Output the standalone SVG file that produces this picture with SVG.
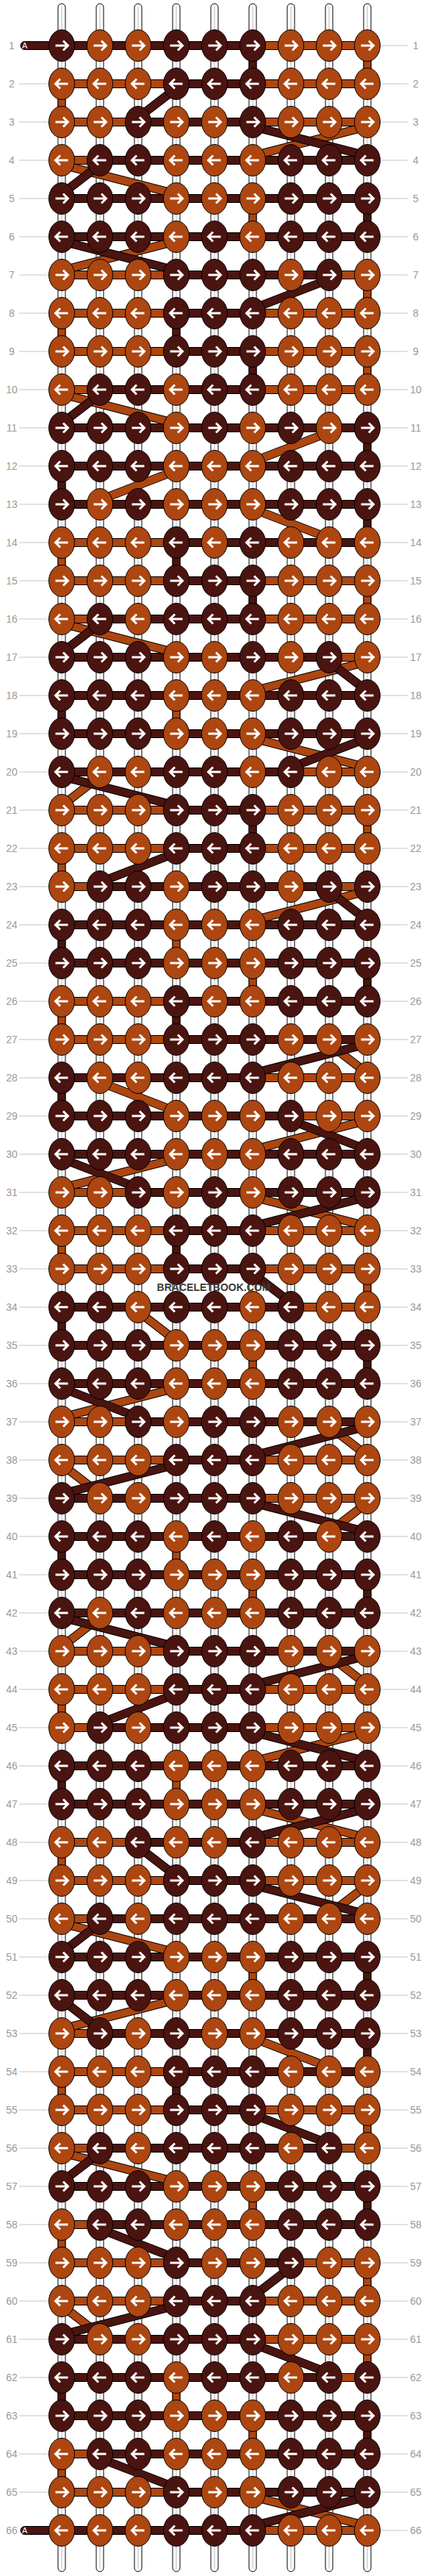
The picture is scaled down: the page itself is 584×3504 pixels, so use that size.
<svg xmlns="http://www.w3.org/2000/svg" xmlns:xlink="http://www.w3.org/1999/xlink" width="584" height="3504" viewBox="0 0 584 3504">
<style>
.d{fill:#4a1410;stroke:#000;stroke-width:1}
.o{fill:#ad4610;stroke:#000;stroke-width:1}
.a{fill:none;stroke:#fff;stroke-width:3}
.s{fill:#fff;stroke:#000;stroke-width:1}
.sc{stroke:#b8b8b8;stroke-width:1;fill:none}
.k{stroke:#000;stroke-width:12;fill:none}
.kd{stroke:#4a1410;stroke-width:10;fill:none}
.ko{stroke:#ad4610;stroke-width:10;fill:none}
.g{stroke:#c4c4c4;stroke-width:1;fill:none}
.l{font-family:"Liberation Sans",Arial,sans-serif;font-size:14px;fill:#999;text-anchor:middle}
.A{font-family:"Liberation Sans",Arial,sans-serif;font-size:11px;fill:#fff}
.w{font-family:"Liberation Sans",Arial,sans-serif;font-size:14px;font-weight:bold;fill:#3a3a3a;text-anchor:middle}
</style>
<defs>
<g id="dR"><ellipse class="d" rx="17.5" ry="21.5"/><path class="a" d="M-8.5 0H8M2-6.5L8.5 0 2 6.5"/></g>
<g id="dL"><ellipse class="d" rx="17.5" ry="21.5"/><path class="a" d="M8.5 0H-8M-2-6.5L-8.5 0-2 6.5"/></g>
<g id="oR"><ellipse class="o" rx="17.5" ry="21.5"/><path class="a" d="M-8.5 0H8M2-6.5L8.5 0 2 6.5"/></g>
<g id="oL"><ellipse class="o" rx="17.5" ry="21.5"/><path class="a" d="M8.5 0H-8M-2-6.5L-8.5 0-2 6.5"/></g>
<g id="st"><rect class="s" x="-5" y="5" width="10" height="3493" rx="5"/><path class="sc" d="M0 9V3494"/></g>
<g id="P1"><rect class="d" x="84" y="-5.5" width="260" height="11"/><rect class="o" x="344" y="-5.5" width="156" height="11"/></g>
<g id="P2"><rect class="o" x="84" y="-5.5" width="156" height="11"/><rect class="d" x="240" y="-5.5" width="104" height="11"/><rect class="o" x="344" y="-5.5" width="156" height="11"/></g>
<g id="P3"><rect class="o" x="84" y="-5.5" width="104" height="11"/><rect class="d" x="188" y="-5.5" width="156" height="11"/><rect class="o" x="344" y="-5.5" width="156" height="11"/></g>
<g id="P4"><rect class="o" x="84" y="-5.5" width="52" height="11"/><rect class="d" x="136" y="-5.5" width="364" height="11"/></g>
<g id="P5"><rect class="d" x="84" y="-5.5" width="416" height="11"/></g>
<g id="P6"><rect class="o" x="84" y="-5.5" width="156" height="11"/><rect class="d" x="240" y="-5.5" width="208" height="11"/><rect class="o" x="448" y="-5.5" width="52" height="11"/></g>
<g id="P7"><rect class="o" x="84" y="-5.5" width="52" height="11"/><rect class="d" x="136" y="-5.5" width="208" height="11"/><rect class="o" x="344" y="-5.5" width="156" height="11"/></g>
<g id="P8"><rect class="o" x="84" y="-5.5" width="156" height="11"/><rect class="d" x="240" y="-5.5" width="260" height="11"/></g>
<g id="P9"><rect class="d" x="84" y="-5.5" width="364" height="11"/><rect class="o" x="448" y="-5.5" width="52" height="11"/></g>
<g id="P10"><rect class="d" x="84" y="-5.5" width="312" height="11"/><rect class="o" x="396" y="-5.5" width="104" height="11"/></g>
<g id="P11"><rect class="o" x="84" y="-5.5" width="52" height="11"/><rect class="d" x="136" y="-5.5" width="312" height="11"/><rect class="o" x="448" y="-5.5" width="52" height="11"/></g>
<g id="P12"><rect class="o" x="84" y="-5.5" width="104" height="11"/><rect class="d" x="188" y="-5.5" width="312" height="11"/></g>
<g id="P13"><rect class="o" x="84" y="-5.5" width="156" height="11"/><rect class="d" x="240" y="-5.5" width="156" height="11"/><rect class="o" x="396" y="-5.5" width="104" height="11"/></g>
<rect id="vd" class="d" x="-5" y="0" width="10" height="52"/>
<rect id="vo" class="o" x="-5" y="0" width="10" height="52"/>
</defs>
<rect width="584" height="3504" fill="#fff"/>
<g id="strings"><use href="#st" x="84"/><use href="#st" x="136"/><use href="#st" x="188"/><use href="#st" x="240"/><use href="#st" x="292"/><use href="#st" x="344"/><use href="#st" x="396"/><use href="#st" x="448"/><use href="#st" x="500"/></g>
<g id="rowlines">
<path class="g" d="M26 114H66M26 166H66M26 218H66M26 270H66M26 322H66M26 374H66M26 426H66M26 478H66M26 530H66M26 582H66M26 634H66M26 686H66M26 738H66M26 790H66M26 842H66M26 894H66M26 946H66M26 998H66M26 1050H66M26 1102H66M26 1154H66M26 1206H66M26 1258H66M26 1310H66M26 1362H66M26 1414H66M26 1466H66M26 1518H66M26 1570H66M26 1622H66M26 1674H66M26 1726H66M26 1778H66M26 1830H66M26 1882H66M26 1934H66M26 1986H66M26 2038H66M26 2090H66M26 2142H66M26 2194H66M26 2246H66M26 2298H66M26 2350H66M26 2402H66M26 2454H66M26 2506H66M26 2558H66M26 2610H66M26 2662H66M26 2714H66M26 2766H66M26 2818H66M26 2870H66M26 2922H66M26 2974H66M26 3026H66M26 3078H66M26 3130H66M26 3182H66M26 3234H66M26 3286H66M26 3338H66M26 3390H66"/>
<path class="g" d="M518 62H555M518 114H555M518 166H555M518 218H555M518 270H555M518 322H555M518 374H555M518 426H555M518 478H555M518 530H555M518 582H555M518 634H555M518 686H555M518 738H555M518 790H555M518 842H555M518 894H555M518 946H555M518 998H555M518 1050H555M518 1102H555M518 1154H555M518 1206H555M518 1258H555M518 1310H555M518 1362H555M518 1414H555M518 1466H555M518 1518H555M518 1570H555M518 1622H555M518 1674H555M518 1726H555M518 1778H555M518 1830H555M518 1882H555M518 1934H555M518 1986H555M518 2038H555M518 2090H555M518 2142H555M518 2194H555M518 2246H555M518 2298H555M518 2350H555M518 2402H555M518 2454H555M518 2506H555M518 2558H555M518 2610H555M518 2662H555M518 2714H555M518 2766H555M518 2818H555M518 2870H555M518 2922H555M518 2974H555M518 3026H555M518 3078H555M518 3130H555M518 3182H555M518 3234H555M518 3286H555M518 3338H555M518 3390H555M518 3442H555"/>
</g>
<g id="labels">
<text class="l" x="16" y="67">1</text><text class="l" x="566" y="67">1</text>
<text class="l" x="16" y="119">2</text><text class="l" x="566" y="119">2</text>
<text class="l" x="16" y="171">3</text><text class="l" x="566" y="171">3</text>
<text class="l" x="16" y="223">4</text><text class="l" x="566" y="223">4</text>
<text class="l" x="16" y="275">5</text><text class="l" x="566" y="275">5</text>
<text class="l" x="16" y="327">6</text><text class="l" x="566" y="327">6</text>
<text class="l" x="16" y="379">7</text><text class="l" x="566" y="379">7</text>
<text class="l" x="16" y="431">8</text><text class="l" x="566" y="431">8</text>
<text class="l" x="16" y="483">9</text><text class="l" x="566" y="483">9</text>
<text class="l" x="16" y="535">10</text><text class="l" x="566" y="535">10</text>
<text class="l" x="16" y="587">11</text><text class="l" x="566" y="587">11</text>
<text class="l" x="16" y="639">12</text><text class="l" x="566" y="639">12</text>
<text class="l" x="16" y="691">13</text><text class="l" x="566" y="691">13</text>
<text class="l" x="16" y="743">14</text><text class="l" x="566" y="743">14</text>
<text class="l" x="16" y="795">15</text><text class="l" x="566" y="795">15</text>
<text class="l" x="16" y="847">16</text><text class="l" x="566" y="847">16</text>
<text class="l" x="16" y="899">17</text><text class="l" x="566" y="899">17</text>
<text class="l" x="16" y="951">18</text><text class="l" x="566" y="951">18</text>
<text class="l" x="16" y="1003">19</text><text class="l" x="566" y="1003">19</text>
<text class="l" x="16" y="1055">20</text><text class="l" x="566" y="1055">20</text>
<text class="l" x="16" y="1107">21</text><text class="l" x="566" y="1107">21</text>
<text class="l" x="16" y="1159">22</text><text class="l" x="566" y="1159">22</text>
<text class="l" x="16" y="1211">23</text><text class="l" x="566" y="1211">23</text>
<text class="l" x="16" y="1263">24</text><text class="l" x="566" y="1263">24</text>
<text class="l" x="16" y="1315">25</text><text class="l" x="566" y="1315">25</text>
<text class="l" x="16" y="1367">26</text><text class="l" x="566" y="1367">26</text>
<text class="l" x="16" y="1419">27</text><text class="l" x="566" y="1419">27</text>
<text class="l" x="16" y="1471">28</text><text class="l" x="566" y="1471">28</text>
<text class="l" x="16" y="1523">29</text><text class="l" x="566" y="1523">29</text>
<text class="l" x="16" y="1575">30</text><text class="l" x="566" y="1575">30</text>
<text class="l" x="16" y="1627">31</text><text class="l" x="566" y="1627">31</text>
<text class="l" x="16" y="1679">32</text><text class="l" x="566" y="1679">32</text>
<text class="l" x="16" y="1731">33</text><text class="l" x="566" y="1731">33</text>
<text class="l" x="16" y="1783">34</text><text class="l" x="566" y="1783">34</text>
<text class="l" x="16" y="1835">35</text><text class="l" x="566" y="1835">35</text>
<text class="l" x="16" y="1887">36</text><text class="l" x="566" y="1887">36</text>
<text class="l" x="16" y="1939">37</text><text class="l" x="566" y="1939">37</text>
<text class="l" x="16" y="1991">38</text><text class="l" x="566" y="1991">38</text>
<text class="l" x="16" y="2043">39</text><text class="l" x="566" y="2043">39</text>
<text class="l" x="16" y="2095">40</text><text class="l" x="566" y="2095">40</text>
<text class="l" x="16" y="2147">41</text><text class="l" x="566" y="2147">41</text>
<text class="l" x="16" y="2199">42</text><text class="l" x="566" y="2199">42</text>
<text class="l" x="16" y="2251">43</text><text class="l" x="566" y="2251">43</text>
<text class="l" x="16" y="2303">44</text><text class="l" x="566" y="2303">44</text>
<text class="l" x="16" y="2355">45</text><text class="l" x="566" y="2355">45</text>
<text class="l" x="16" y="2407">46</text><text class="l" x="566" y="2407">46</text>
<text class="l" x="16" y="2459">47</text><text class="l" x="566" y="2459">47</text>
<text class="l" x="16" y="2511">48</text><text class="l" x="566" y="2511">48</text>
<text class="l" x="16" y="2563">49</text><text class="l" x="566" y="2563">49</text>
<text class="l" x="16" y="2615">50</text><text class="l" x="566" y="2615">50</text>
<text class="l" x="16" y="2667">51</text><text class="l" x="566" y="2667">51</text>
<text class="l" x="16" y="2719">52</text><text class="l" x="566" y="2719">52</text>
<text class="l" x="16" y="2771">53</text><text class="l" x="566" y="2771">53</text>
<text class="l" x="16" y="2823">54</text><text class="l" x="566" y="2823">54</text>
<text class="l" x="16" y="2875">55</text><text class="l" x="566" y="2875">55</text>
<text class="l" x="16" y="2927">56</text><text class="l" x="566" y="2927">56</text>
<text class="l" x="16" y="2979">57</text><text class="l" x="566" y="2979">57</text>
<text class="l" x="16" y="3031">58</text><text class="l" x="566" y="3031">58</text>
<text class="l" x="16" y="3083">59</text><text class="l" x="566" y="3083">59</text>
<text class="l" x="16" y="3135">60</text><text class="l" x="566" y="3135">60</text>
<text class="l" x="16" y="3187">61</text><text class="l" x="566" y="3187">61</text>
<text class="l" x="16" y="3239">62</text><text class="l" x="566" y="3239">62</text>
<text class="l" x="16" y="3291">63</text><text class="l" x="566" y="3291">63</text>
<text class="l" x="16" y="3343">64</text><text class="l" x="566" y="3343">64</text>
<text class="l" x="16" y="3395">65</text><text class="l" x="566" y="3395">65</text>
<text class="l" x="16" y="3447">66</text><text class="l" x="566" y="3447">66</text>
</g>
<g id="connectors">
<path class="d" d="M84 56.5H33.5a5.5 5.5 0 0 0 0 11H84z"/>
<path class="d" d="M84 3436.5H33.5a5.5 5.5 0 0 0 0 11H84z"/>
<use href="#P1" y="62"/><use href="#P2" y="114"/><use href="#P3" y="166"/><use href="#P4" y="218"/><use href="#P5" y="270"/><use href="#P5" y="322"/><use href="#P6" y="374"/><use href="#P2" y="426"/><use href="#P2" y="478"/><use href="#P7" y="530"/>
<use href="#P5" y="582"/><use href="#P5" y="634"/><use href="#P5" y="686"/><use href="#P8" y="738"/><use href="#P2" y="790"/><use href="#P7" y="842"/><use href="#P9" y="894"/><use href="#P5" y="946"/><use href="#P5" y="998"/><use href="#P10" y="1050"/>
<use href="#P2" y="1102"/><use href="#P2" y="1154"/><use href="#P11" y="1206"/><use href="#P5" y="1258"/><use href="#P5" y="1310"/><use href="#P8" y="1362"/><use href="#P8" y="1414"/><use href="#P1" y="1466"/><use href="#P10" y="1518"/><use href="#P5" y="1570"/>
<use href="#P12" y="1622"/><use href="#P2" y="1674"/><use href="#P2" y="1726"/><use href="#P10" y="1778"/><use href="#P5" y="1830"/><use href="#P5" y="1882"/><use href="#P12" y="1934"/><use href="#P2" y="1986"/><use href="#P1" y="2038"/><use href="#P5" y="2090"/>
<use href="#P5" y="2142"/><use href="#P5" y="2194"/><use href="#P8" y="2246"/><use href="#P2" y="2298"/><use href="#P7" y="2350"/><use href="#P5" y="2402"/><use href="#P5" y="2454"/><use href="#P3" y="2506"/><use href="#P2" y="2558"/><use href="#P4" y="2610"/>
<use href="#P5" y="2662"/><use href="#P5" y="2714"/><use href="#P4" y="2766"/><use href="#P8" y="2818"/><use href="#P2" y="2870"/><use href="#P11" y="2922"/><use href="#P5" y="2974"/><use href="#P4" y="3026"/><use href="#P13" y="3078"/><use href="#P2" y="3130"/>
<use href="#P1" y="3182"/><use href="#P9" y="3234"/><use href="#P5" y="3286"/><use href="#P4" y="3338"/><use href="#P8" y="3390"/><use href="#P1" y="3442"/>
<use href="#vo" x="84" y="114"/>
<use href="#vo" x="84" y="426"/><use href="#vd" x="240" y="426"/>
<use href="#vd" x="84" y="634"/>
<use href="#vo" x="84" y="738"/><use href="#vd" x="240" y="738"/>
<use href="#vd" x="84" y="946"/><use href="#vo" x="240" y="946"/>
<use href="#vo" x="84" y="1154"/>
<use href="#vd" x="84" y="1258"/><use href="#vo" x="240" y="1258"/>
<use href="#vo" x="84" y="1362"/><use href="#vd" x="240" y="1362"/>
<use href="#vd" x="84" y="1466"/>
<use href="#vo" x="84" y="1674"/><use href="#vd" x="240" y="1674"/>
<use href="#vd" x="84" y="1778"/>
<use href="#vd" x="84" y="2090"/><use href="#vo" x="240" y="2090"/>
<use href="#vo" x="84" y="2298"/>
<use href="#vd" x="84" y="2402"/><use href="#vo" x="240" y="2402"/>
<use href="#vo" x="84" y="2506"/>
<use href="#vo" x="84" y="2818"/><use href="#vd" x="240" y="2818"/>
<use href="#vo" x="84" y="3026"/>
<use href="#vd" x="84" y="3234"/><use href="#vo" x="240" y="3234"/>
<use href="#vo" x="84" y="3338"/>
<use href="#vd" x="344" y="62"/><use href="#vo" x="500" y="62"/>
<use href="#vo" x="344" y="270"/><use href="#vd" x="500" y="270"/>
<use href="#vo" x="500" y="374"/>
<use href="#vd" x="344" y="478"/><use href="#vo" x="500" y="478"/>
<use href="#vd" x="500" y="582"/>
<use href="#vd" x="500" y="686"/>
<use href="#vd" x="344" y="790"/><use href="#vo" x="500" y="790"/>
<use href="#vd" x="344" y="1102"/><use href="#vo" x="500" y="1102"/>
<use href="#vo" x="344" y="1310"/><use href="#vd" x="500" y="1310"/>
<use href="#vo" x="500" y="1726"/>
<use href="#vo" x="344" y="1830"/><use href="#vd" x="500" y="1830"/>
<use href="#vo" x="344" y="2142"/><use href="#vd" x="500" y="2142"/>
<use href="#vo" x="344" y="2662"/><use href="#vd" x="500" y="2662"/>
<use href="#vd" x="500" y="2766"/>
<use href="#vo" x="500" y="2870"/>
<use href="#vo" x="344" y="2974"/><use href="#vd" x="500" y="2974"/>
<use href="#vo" x="500" y="3078"/>
<use href="#vo" x="500" y="3182"/>
<use href="#vo" x="344" y="3286"/><use href="#vd" x="500" y="3286"/>
<path class="k" d="M240 120L188 160"/><path class="kd" d="M240 120L188 160"/>
<path class="k" d="M500 172L344 212"/><path class="ko" d="M500 172L344 212"/><path class="k" d="M344 172L500 212"/><path class="kd" d="M344 172L500 212"/>
<path class="k" d="M84 224L240 264"/><path class="ko" d="M84 224L240 264"/><path class="k" d="M136 224L84 264"/><path class="kd" d="M136 224L84 264"/>
<path class="k" d="M240 328L84 368"/><path class="ko" d="M240 328L84 368"/><path class="k" d="M84 328L240 368"/><path class="kd" d="M84 328L240 368"/>
<path class="k" d="M448 380L344 420"/><path class="kd" d="M448 380L344 420"/>
<path class="k" d="M84 536L240 576"/><path class="ko" d="M84 536L240 576"/><path class="k" d="M136 536L84 576"/><path class="kd" d="M136 536L84 576"/>
<path class="k" d="M448 588L344 628"/><path class="ko" d="M448 588L344 628"/>
<path class="k" d="M240 640L136 680"/><path class="ko" d="M240 640L136 680"/>
<path class="k" d="M344 692L448 732"/><path class="ko" d="M344 692L448 732"/>
<path class="k" d="M84 848L240 888"/><path class="ko" d="M84 848L240 888"/><path class="k" d="M136 848L84 888"/><path class="kd" d="M136 848L84 888"/>
<path class="k" d="M500 900L344 940"/><path class="ko" d="M500 900L344 940"/><path class="k" d="M448 900L500 940"/><path class="kd" d="M448 900L500 940"/>
<path class="k" d="M344 1004L500 1044"/><path class="ko" d="M344 1004L500 1044"/><path class="k" d="M500 1004L396 1044"/><path class="kd" d="M500 1004L396 1044"/>
<path class="k" d="M136 1056L84 1096"/><path class="ko" d="M136 1056L84 1096"/><path class="k" d="M84 1056L240 1096"/><path class="kd" d="M84 1056L240 1096"/>
<path class="k" d="M240 1160L136 1200"/><path class="kd" d="M240 1160L136 1200"/>
<path class="k" d="M500 1212L344 1252"/><path class="ko" d="M500 1212L344 1252"/><path class="k" d="M448 1212L500 1252"/><path class="kd" d="M448 1212L500 1252"/>
<path class="k" d="M448 1420L500 1460"/><path class="ko" d="M448 1420L500 1460"/><path class="k" d="M500 1420L344 1460"/><path class="kd" d="M500 1420L344 1460"/>
<path class="k" d="M136 1472L240 1512"/><path class="ko" d="M136 1472L240 1512"/>
<path class="k" d="M500 1524L344 1564"/><path class="ko" d="M500 1524L344 1564"/><path class="k" d="M396 1524L500 1564"/><path class="kd" d="M396 1524L500 1564"/>
<path class="k" d="M240 1576L84 1616"/><path class="ko" d="M240 1576L84 1616"/><path class="k" d="M84 1576L188 1616"/><path class="kd" d="M84 1576L188 1616"/>
<path class="k" d="M344 1628L500 1668"/><path class="ko" d="M344 1628L500 1668"/><path class="k" d="M500 1628L344 1668"/><path class="kd" d="M500 1628L344 1668"/>
<path class="k" d="M344 1732L396 1772"/><path class="kd" d="M344 1732L396 1772"/>
<path class="k" d="M188 1784L240 1824"/><path class="ko" d="M188 1784L240 1824"/>
<path class="k" d="M240 1888L84 1928"/><path class="ko" d="M240 1888L84 1928"/><path class="k" d="M84 1888L188 1928"/><path class="kd" d="M84 1888L188 1928"/>
<path class="k" d="M448 1940L500 1980"/><path class="ko" d="M448 1940L500 1980"/><path class="k" d="M500 1940L344 1980"/><path class="kd" d="M500 1940L344 1980"/>
<path class="k" d="M84 1992L136 2032"/><path class="ko" d="M84 1992L136 2032"/><path class="k" d="M240 1992L84 2032"/><path class="kd" d="M240 1992L84 2032"/>
<path class="k" d="M500 2044L448 2084"/><path class="ko" d="M500 2044L448 2084"/><path class="k" d="M344 2044L500 2084"/><path class="kd" d="M344 2044L500 2084"/>
<path class="k" d="M136 2200L84 2240"/><path class="ko" d="M136 2200L84 2240"/><path class="k" d="M84 2200L240 2240"/><path class="kd" d="M84 2200L240 2240"/>
<path class="k" d="M448 2252L500 2292"/><path class="ko" d="M448 2252L500 2292"/><path class="k" d="M500 2252L344 2292"/><path class="kd" d="M500 2252L344 2292"/>
<path class="k" d="M240 2304L136 2344"/><path class="kd" d="M240 2304L136 2344"/>
<path class="k" d="M500 2356L344 2396"/><path class="ko" d="M500 2356L344 2396"/><path class="k" d="M344 2356L500 2396"/><path class="kd" d="M344 2356L500 2396"/>
<path class="k" d="M344 2460L500 2500"/><path class="ko" d="M344 2460L500 2500"/><path class="k" d="M500 2460L344 2500"/><path class="kd" d="M500 2460L344 2500"/>
<path class="k" d="M188 2512L240 2552"/><path class="kd" d="M188 2512L240 2552"/>
<path class="k" d="M500 2564L448 2604"/><path class="ko" d="M500 2564L448 2604"/><path class="k" d="M344 2564L500 2604"/><path class="kd" d="M344 2564L500 2604"/>
<path class="k" d="M84 2616L240 2656"/><path class="ko" d="M84 2616L240 2656"/><path class="k" d="M136 2616L84 2656"/><path class="kd" d="M136 2616L84 2656"/>
<path class="k" d="M240 2720L84 2760"/><path class="ko" d="M240 2720L84 2760"/><path class="k" d="M84 2720L136 2760"/><path class="kd" d="M84 2720L136 2760"/>
<path class="k" d="M344 2772L448 2812"/><path class="ko" d="M344 2772L448 2812"/>
<path class="k" d="M344 2876L448 2916"/><path class="kd" d="M344 2876L448 2916"/>
<path class="k" d="M84 2928L240 2968"/><path class="ko" d="M84 2928L240 2968"/><path class="k" d="M136 2928L84 2968"/><path class="kd" d="M136 2928L84 2968"/>
<path class="k" d="M136 3032L240 3072"/><path class="kd" d="M136 3032L240 3072"/>
<path class="k" d="M396 3084L344 3124"/><path class="kd" d="M396 3084L344 3124"/>
<path class="k" d="M84 3136L136 3176"/><path class="ko" d="M84 3136L136 3176"/><path class="k" d="M240 3136L84 3176"/><path class="kd" d="M240 3136L84 3176"/>
<path class="k" d="M344 3188L448 3228"/><path class="kd" d="M344 3188L448 3228"/>
<path class="k" d="M136 3344L240 3384"/><path class="kd" d="M136 3344L240 3384"/>
<path class="k" d="M344 3396L500 3436"/><path class="ko" d="M344 3396L500 3436"/><path class="k" d="M500 3396L344 3436"/><path class="kd" d="M500 3396L344 3436"/>
</g>
<g id="knots">
<g transform="translate(0,62)"><g id="k1_1"><use href="#dR" x="84"/></g><g id="k1_2"><use href="#oR" x="136"/></g><g id="k1_3"><use href="#oR" x="188"/></g><g id="k1_4"><use href="#dR" x="240"/></g><g id="k1_5"><use href="#dR" x="292"/></g><g id="k1_6"><use href="#dR" x="344"/></g><g id="k1_7"><use href="#oR" x="396"/></g><g id="k1_8"><use href="#oR" x="448"/></g><g id="k1_9"><use href="#oR" x="500"/></g></g>
<g transform="translate(0,114)"><g id="k2_1"><use href="#oL" x="84"/></g><g id="k2_2"><use href="#oL" x="136"/></g><g id="k2_3"><use href="#oL" x="188"/></g><g id="k2_4"><use href="#dL" x="240"/></g><g id="k2_5"><use href="#dL" x="292"/></g><g id="k2_6"><use href="#dL" x="344"/></g><g id="k2_7"><use href="#oL" x="396"/></g><g id="k2_8"><use href="#oL" x="448"/></g><g id="k2_9"><use href="#oL" x="500"/></g></g>
<g transform="translate(0,166)"><g id="k3_1"><use href="#oR" x="84"/></g><g id="k3_2"><use href="#oR" x="136"/></g><g id="k3_3"><use href="#dR" x="188"/></g><g id="k3_4"><use href="#oR" x="240"/></g><g id="k3_5"><use href="#oR" x="292"/></g><g id="k3_6"><use href="#dR" x="344"/></g><g id="k3_7"><use href="#oR" x="396"/></g><g id="k3_8"><use href="#oR" x="448"/></g><g id="k3_9"><use href="#oR" x="500"/></g></g>
<g transform="translate(0,218)"><g id="k4_1"><use href="#oL" x="84"/></g><g id="k4_2"><use href="#dL" x="136"/></g><g id="k4_3"><use href="#dL" x="188"/></g><g id="k4_4"><use href="#oL" x="240"/></g><g id="k4_5"><use href="#oL" x="292"/></g><g id="k4_6"><use href="#oL" x="344"/></g><g id="k4_7"><use href="#dL" x="396"/></g><g id="k4_8"><use href="#dL" x="448"/></g><g id="k4_9"><use href="#dL" x="500"/></g></g>
<g transform="translate(0,270)"><g id="k5_1"><use href="#dR" x="84"/></g><g id="k5_2"><use href="#dR" x="136"/></g><g id="k5_3"><use href="#dR" x="188"/></g><g id="k5_4"><use href="#oR" x="240"/></g><g id="k5_5"><use href="#oR" x="292"/></g><g id="k5_6"><use href="#oR" x="344"/></g><g id="k5_7"><use href="#dR" x="396"/></g><g id="k5_8"><use href="#dR" x="448"/></g><g id="k5_9"><use href="#dR" x="500"/></g></g>
<g transform="translate(0,322)"><g id="k6_1"><use href="#dL" x="84"/></g><g id="k6_2"><use href="#dL" x="136"/></g><g id="k6_3"><use href="#dL" x="188"/></g><g id="k6_4"><use href="#oL" x="240"/></g><g id="k6_5"><use href="#dL" x="292"/></g><g id="k6_6"><use href="#oL" x="344"/></g><g id="k6_7"><use href="#dL" x="396"/></g><g id="k6_8"><use href="#dL" x="448"/></g><g id="k6_9"><use href="#dL" x="500"/></g></g>
<g transform="translate(0,374)"><g id="k7_1"><use href="#oR" x="84"/></g><g id="k7_2"><use href="#oR" x="136"/></g><g id="k7_3"><use href="#oR" x="188"/></g><g id="k7_4"><use href="#dR" x="240"/></g><g id="k7_5"><use href="#dR" x="292"/></g><g id="k7_6"><use href="#dR" x="344"/></g><g id="k7_7"><use href="#oR" x="396"/></g><g id="k7_8"><use href="#dR" x="448"/></g><g id="k7_9"><use href="#oR" x="500"/></g></g>
<g transform="translate(0,426)"><g id="k8_1"><use href="#oL" x="84"/></g><g id="k8_2"><use href="#oL" x="136"/></g><g id="k8_3"><use href="#oL" x="188"/></g><g id="k8_4"><use href="#dL" x="240"/></g><g id="k8_5"><use href="#dL" x="292"/></g><g id="k8_6"><use href="#dL" x="344"/></g><g id="k8_7"><use href="#oL" x="396"/></g><g id="k8_8"><use href="#oL" x="448"/></g><g id="k8_9"><use href="#oL" x="500"/></g></g>
<g transform="translate(0,478)"><g id="k9_1"><use href="#oR" x="84"/></g><g id="k9_2"><use href="#oR" x="136"/></g><g id="k9_3"><use href="#oR" x="188"/></g><g id="k9_4"><use href="#dR" x="240"/></g><g id="k9_5"><use href="#dR" x="292"/></g><g id="k9_6"><use href="#dR" x="344"/></g><g id="k9_7"><use href="#oR" x="396"/></g><g id="k9_8"><use href="#oR" x="448"/></g><g id="k9_9"><use href="#oR" x="500"/></g></g>
<g transform="translate(0,530)"><g id="k10_1"><use href="#oL" x="84"/></g><g id="k10_2"><use href="#dL" x="136"/></g><g id="k10_3"><use href="#dL" x="188"/></g><g id="k10_4"><use href="#oL" x="240"/></g><g id="k10_5"><use href="#dL" x="292"/></g><g id="k10_6"><use href="#dL" x="344"/></g><g id="k10_7"><use href="#oL" x="396"/></g><g id="k10_8"><use href="#oL" x="448"/></g><g id="k10_9"><use href="#oL" x="500"/></g></g>
<g transform="translate(0,582)"><g id="k11_1"><use href="#dR" x="84"/></g><g id="k11_2"><use href="#dR" x="136"/></g><g id="k11_3"><use href="#dR" x="188"/></g><g id="k11_4"><use href="#oR" x="240"/></g><g id="k11_5"><use href="#dR" x="292"/></g><g id="k11_6"><use href="#oR" x="344"/></g><g id="k11_7"><use href="#dR" x="396"/></g><g id="k11_8"><use href="#oR" x="448"/></g><g id="k11_9"><use href="#dR" x="500"/></g></g>
<g transform="translate(0,634)"><g id="k12_1"><use href="#dL" x="84"/></g><g id="k12_2"><use href="#dL" x="136"/></g><g id="k12_3"><use href="#dL" x="188"/></g><g id="k12_4"><use href="#oL" x="240"/></g><g id="k12_5"><use href="#oL" x="292"/></g><g id="k12_6"><use href="#oL" x="344"/></g><g id="k12_7"><use href="#dL" x="396"/></g><g id="k12_8"><use href="#dL" x="448"/></g><g id="k12_9"><use href="#dL" x="500"/></g></g>
<g transform="translate(0,686)"><g id="k13_1"><use href="#dR" x="84"/></g><g id="k13_2"><use href="#oR" x="136"/></g><g id="k13_3"><use href="#dR" x="188"/></g><g id="k13_4"><use href="#oR" x="240"/></g><g id="k13_5"><use href="#oR" x="292"/></g><g id="k13_6"><use href="#oR" x="344"/></g><g id="k13_7"><use href="#dR" x="396"/></g><g id="k13_8"><use href="#dR" x="448"/></g><g id="k13_9"><use href="#dR" x="500"/></g></g>
<g transform="translate(0,738)"><g id="k14_1"><use href="#oL" x="84"/></g><g id="k14_2"><use href="#oL" x="136"/></g><g id="k14_3"><use href="#oL" x="188"/></g><g id="k14_4"><use href="#dL" x="240"/></g><g id="k14_5"><use href="#oL" x="292"/></g><g id="k14_6"><use href="#dL" x="344"/></g><g id="k14_7"><use href="#oL" x="396"/></g><g id="k14_8"><use href="#oL" x="448"/></g><g id="k14_9"><use href="#oL" x="500"/></g></g>
<g transform="translate(0,790)"><g id="k15_1"><use href="#oR" x="84"/></g><g id="k15_2"><use href="#oR" x="136"/></g><g id="k15_3"><use href="#oR" x="188"/></g><g id="k15_4"><use href="#dR" x="240"/></g><g id="k15_5"><use href="#dR" x="292"/></g><g id="k15_6"><use href="#dR" x="344"/></g><g id="k15_7"><use href="#oR" x="396"/></g><g id="k15_8"><use href="#oR" x="448"/></g><g id="k15_9"><use href="#oR" x="500"/></g></g>
<g transform="translate(0,842)"><g id="k16_1"><use href="#oL" x="84"/></g><g id="k16_2"><use href="#dL" x="136"/></g><g id="k16_3"><use href="#oL" x="188"/></g><g id="k16_4"><use href="#dL" x="240"/></g><g id="k16_5"><use href="#dL" x="292"/></g><g id="k16_6"><use href="#dL" x="344"/></g><g id="k16_7"><use href="#oL" x="396"/></g><g id="k16_8"><use href="#oL" x="448"/></g><g id="k16_9"><use href="#oL" x="500"/></g></g>
<g transform="translate(0,894)"><g id="k17_1"><use href="#dR" x="84"/></g><g id="k17_2"><use href="#dR" x="136"/></g><g id="k17_3"><use href="#dR" x="188"/></g><g id="k17_4"><use href="#oR" x="240"/></g><g id="k17_5"><use href="#oR" x="292"/></g><g id="k17_6"><use href="#dR" x="344"/></g><g id="k17_7"><use href="#oR" x="396"/></g><g id="k17_8"><use href="#dR" x="448"/></g><g id="k17_9"><use href="#oR" x="500"/></g></g>
<g transform="translate(0,946)"><g id="k18_1"><use href="#dL" x="84"/></g><g id="k18_2"><use href="#dL" x="136"/></g><g id="k18_3"><use href="#dL" x="188"/></g><g id="k18_4"><use href="#oL" x="240"/></g><g id="k18_5"><use href="#oL" x="292"/></g><g id="k18_6"><use href="#oL" x="344"/></g><g id="k18_7"><use href="#dL" x="396"/></g><g id="k18_8"><use href="#dL" x="448"/></g><g id="k18_9"><use href="#dL" x="500"/></g></g>
<g transform="translate(0,998)"><g id="k19_1"><use href="#dR" x="84"/></g><g id="k19_2"><use href="#dR" x="136"/></g><g id="k19_3"><use href="#dR" x="188"/></g><g id="k19_4"><use href="#oR" x="240"/></g><g id="k19_5"><use href="#oR" x="292"/></g><g id="k19_6"><use href="#oR" x="344"/></g><g id="k19_7"><use href="#dR" x="396"/></g><g id="k19_8"><use href="#dR" x="448"/></g><g id="k19_9"><use href="#dR" x="500"/></g></g>
<g transform="translate(0,1050)"><g id="k20_1"><use href="#dL" x="84"/></g><g id="k20_2"><use href="#oL" x="136"/></g><g id="k20_3"><use href="#oL" x="188"/></g><g id="k20_4"><use href="#dL" x="240"/></g><g id="k20_5"><use href="#dL" x="292"/></g><g id="k20_6"><use href="#oL" x="344"/></g><g id="k20_7"><use href="#dL" x="396"/></g><g id="k20_8"><use href="#oL" x="448"/></g><g id="k20_9"><use href="#oL" x="500"/></g></g>
<g transform="translate(0,1102)"><g id="k21_1"><use href="#oR" x="84"/></g><g id="k21_2"><use href="#oR" x="136"/></g><g id="k21_3"><use href="#oR" x="188"/></g><g id="k21_4"><use href="#dR" x="240"/></g><g id="k21_5"><use href="#dR" x="292"/></g><g id="k21_6"><use href="#dR" x="344"/></g><g id="k21_7"><use href="#oR" x="396"/></g><g id="k21_8"><use href="#oR" x="448"/></g><g id="k21_9"><use href="#oR" x="500"/></g></g>
<g transform="translate(0,1154)"><g id="k22_1"><use href="#oL" x="84"/></g><g id="k22_2"><use href="#oL" x="136"/></g><g id="k22_3"><use href="#oL" x="188"/></g><g id="k22_4"><use href="#dL" x="240"/></g><g id="k22_5"><use href="#dL" x="292"/></g><g id="k22_6"><use href="#dL" x="344"/></g><g id="k22_7"><use href="#oL" x="396"/></g><g id="k22_8"><use href="#oL" x="448"/></g><g id="k22_9"><use href="#oL" x="500"/></g></g>
<g transform="translate(0,1206)"><g id="k23_1"><use href="#oR" x="84"/></g><g id="k23_2"><use href="#dR" x="136"/></g><g id="k23_3"><use href="#dR" x="188"/></g><g id="k23_4"><use href="#oR" x="240"/></g><g id="k23_5"><use href="#dR" x="292"/></g><g id="k23_6"><use href="#dR" x="344"/></g><g id="k23_7"><use href="#oR" x="396"/></g><g id="k23_8"><use href="#dR" x="448"/></g><g id="k23_9"><use href="#dR" x="500"/></g></g>
<g transform="translate(0,1258)"><g id="k24_1"><use href="#dL" x="84"/></g><g id="k24_2"><use href="#dL" x="136"/></g><g id="k24_3"><use href="#dL" x="188"/></g><g id="k24_4"><use href="#oL" x="240"/></g><g id="k24_5"><use href="#oL" x="292"/></g><g id="k24_6"><use href="#oL" x="344"/></g><g id="k24_7"><use href="#dL" x="396"/></g><g id="k24_8"><use href="#dL" x="448"/></g><g id="k24_9"><use href="#dL" x="500"/></g></g>
<g transform="translate(0,1310)"><g id="k25_1"><use href="#dR" x="84"/></g><g id="k25_2"><use href="#dR" x="136"/></g><g id="k25_3"><use href="#dR" x="188"/></g><g id="k25_4"><use href="#oR" x="240"/></g><g id="k25_5"><use href="#oR" x="292"/></g><g id="k25_6"><use href="#oR" x="344"/></g><g id="k25_7"><use href="#dR" x="396"/></g><g id="k25_8"><use href="#dR" x="448"/></g><g id="k25_9"><use href="#dR" x="500"/></g></g>
<g transform="translate(0,1362)"><g id="k26_1"><use href="#oL" x="84"/></g><g id="k26_2"><use href="#oL" x="136"/></g><g id="k26_3"><use href="#oL" x="188"/></g><g id="k26_4"><use href="#dL" x="240"/></g><g id="k26_5"><use href="#oL" x="292"/></g><g id="k26_6"><use href="#oL" x="344"/></g><g id="k26_7"><use href="#dL" x="396"/></g><g id="k26_8"><use href="#dL" x="448"/></g><g id="k26_9"><use href="#dL" x="500"/></g></g>
<g transform="translate(0,1414)"><g id="k27_1"><use href="#oR" x="84"/></g><g id="k27_2"><use href="#oR" x="136"/></g><g id="k27_3"><use href="#oR" x="188"/></g><g id="k27_4"><use href="#dR" x="240"/></g><g id="k27_5"><use href="#dR" x="292"/></g><g id="k27_6"><use href="#dR" x="344"/></g><g id="k27_7"><use href="#oR" x="396"/></g><g id="k27_8"><use href="#oR" x="448"/></g><g id="k27_9"><use href="#oR" x="500"/></g></g>
<g transform="translate(0,1466)"><g id="k28_1"><use href="#dL" x="84"/></g><g id="k28_2"><use href="#oL" x="136"/></g><g id="k28_3"><use href="#oL" x="188"/></g><g id="k28_4"><use href="#dL" x="240"/></g><g id="k28_5"><use href="#dL" x="292"/></g><g id="k28_6"><use href="#dL" x="344"/></g><g id="k28_7"><use href="#oL" x="396"/></g><g id="k28_8"><use href="#oL" x="448"/></g><g id="k28_9"><use href="#oL" x="500"/></g></g>
<g transform="translate(0,1518)"><g id="k29_1"><use href="#dR" x="84"/></g><g id="k29_2"><use href="#dR" x="136"/></g><g id="k29_3"><use href="#dR" x="188"/></g><g id="k29_4"><use href="#oR" x="240"/></g><g id="k29_5"><use href="#oR" x="292"/></g><g id="k29_6"><use href="#oR" x="344"/></g><g id="k29_7"><use href="#dR" x="396"/></g><g id="k29_8"><use href="#oR" x="448"/></g><g id="k29_9"><use href="#oR" x="500"/></g></g>
<g transform="translate(0,1570)"><g id="k30_1"><use href="#dL" x="84"/></g><g id="k30_2"><use href="#dL" x="136"/></g><g id="k30_3"><use href="#dL" x="188"/></g><g id="k30_4"><use href="#oL" x="240"/></g><g id="k30_5"><use href="#oL" x="292"/></g><g id="k30_6"><use href="#oL" x="344"/></g><g id="k30_7"><use href="#dL" x="396"/></g><g id="k30_8"><use href="#dL" x="448"/></g><g id="k30_9"><use href="#dL" x="500"/></g></g>
<g transform="translate(0,1622)"><g id="k31_1"><use href="#oR" x="84"/></g><g id="k31_2"><use href="#oR" x="136"/></g><g id="k31_3"><use href="#dR" x="188"/></g><g id="k31_4"><use href="#oR" x="240"/></g><g id="k31_5"><use href="#dR" x="292"/></g><g id="k31_6"><use href="#oR" x="344"/></g><g id="k31_7"><use href="#dR" x="396"/></g><g id="k31_8"><use href="#dR" x="448"/></g><g id="k31_9"><use href="#dR" x="500"/></g></g>
<g transform="translate(0,1674)"><g id="k32_1"><use href="#oL" x="84"/></g><g id="k32_2"><use href="#oL" x="136"/></g><g id="k32_3"><use href="#oL" x="188"/></g><g id="k32_4"><use href="#dL" x="240"/></g><g id="k32_5"><use href="#dL" x="292"/></g><g id="k32_6"><use href="#dL" x="344"/></g><g id="k32_7"><use href="#oL" x="396"/></g><g id="k32_8"><use href="#oL" x="448"/></g><g id="k32_9"><use href="#oL" x="500"/></g></g>
<g transform="translate(0,1726)"><g id="k33_1"><use href="#oR" x="84"/></g><g id="k33_2"><use href="#oR" x="136"/></g><g id="k33_3"><use href="#oR" x="188"/></g><g id="k33_4"><use href="#dR" x="240"/></g><g id="k33_5"><use href="#dR" x="292"/></g><g id="k33_6"><use href="#dR" x="344"/></g><g id="k33_7"><use href="#oR" x="396"/></g><g id="k33_8"><use href="#oR" x="448"/></g><g id="k33_9"><use href="#oR" x="500"/></g></g>
<g transform="translate(0,1778)"><g id="k34_1"><use href="#dL" x="84"/></g><g id="k34_2"><use href="#dL" x="136"/></g><g id="k34_3"><use href="#oL" x="188"/></g><g id="k34_4"><use href="#dL" x="240"/></g><g id="k34_5"><use href="#dL" x="292"/></g><g id="k34_6"><use href="#oL" x="344"/></g><g id="k34_7"><use href="#dL" x="396"/></g><g id="k34_8"><use href="#oL" x="448"/></g><g id="k34_9"><use href="#oL" x="500"/></g></g>
<g transform="translate(0,1830)"><g id="k35_1"><use href="#dR" x="84"/></g><g id="k35_2"><use href="#dR" x="136"/></g><g id="k35_3"><use href="#dR" x="188"/></g><g id="k35_4"><use href="#oR" x="240"/></g><g id="k35_5"><use href="#oR" x="292"/></g><g id="k35_6"><use href="#oR" x="344"/></g><g id="k35_7"><use href="#dR" x="396"/></g><g id="k35_8"><use href="#dR" x="448"/></g><g id="k35_9"><use href="#dR" x="500"/></g></g>
<g transform="translate(0,1882)"><g id="k36_1"><use href="#dL" x="84"/></g><g id="k36_2"><use href="#dL" x="136"/></g><g id="k36_3"><use href="#dL" x="188"/></g><g id="k36_4"><use href="#oL" x="240"/></g><g id="k36_5"><use href="#oL" x="292"/></g><g id="k36_6"><use href="#oL" x="344"/></g><g id="k36_7"><use href="#dL" x="396"/></g><g id="k36_8"><use href="#dL" x="448"/></g><g id="k36_9"><use href="#dL" x="500"/></g></g>
<g transform="translate(0,1934)"><g id="k37_1"><use href="#oR" x="84"/></g><g id="k37_2"><use href="#oR" x="136"/></g><g id="k37_3"><use href="#dR" x="188"/></g><g id="k37_4"><use href="#oR" x="240"/></g><g id="k37_5"><use href="#dR" x="292"/></g><g id="k37_6"><use href="#dR" x="344"/></g><g id="k37_7"><use href="#oR" x="396"/></g><g id="k37_8"><use href="#oR" x="448"/></g><g id="k37_9"><use href="#oR" x="500"/></g></g>
<g transform="translate(0,1986)"><g id="k38_1"><use href="#oL" x="84"/></g><g id="k38_2"><use href="#oL" x="136"/></g><g id="k38_3"><use href="#oL" x="188"/></g><g id="k38_4"><use href="#dL" x="240"/></g><g id="k38_5"><use href="#dL" x="292"/></g><g id="k38_6"><use href="#dL" x="344"/></g><g id="k38_7"><use href="#oL" x="396"/></g><g id="k38_8"><use href="#oL" x="448"/></g><g id="k38_9"><use href="#oL" x="500"/></g></g>
<g transform="translate(0,2038)"><g id="k39_1"><use href="#dR" x="84"/></g><g id="k39_2"><use href="#oR" x="136"/></g><g id="k39_3"><use href="#oR" x="188"/></g><g id="k39_4"><use href="#dR" x="240"/></g><g id="k39_5"><use href="#dR" x="292"/></g><g id="k39_6"><use href="#dR" x="344"/></g><g id="k39_7"><use href="#oR" x="396"/></g><g id="k39_8"><use href="#oR" x="448"/></g><g id="k39_9"><use href="#oR" x="500"/></g></g>
<g transform="translate(0,2090)"><g id="k40_1"><use href="#dL" x="84"/></g><g id="k40_2"><use href="#dL" x="136"/></g><g id="k40_3"><use href="#dL" x="188"/></g><g id="k40_4"><use href="#oL" x="240"/></g><g id="k40_5"><use href="#dL" x="292"/></g><g id="k40_6"><use href="#oL" x="344"/></g><g id="k40_7"><use href="#dL" x="396"/></g><g id="k40_8"><use href="#oL" x="448"/></g><g id="k40_9"><use href="#dL" x="500"/></g></g>
<g transform="translate(0,2142)"><g id="k41_1"><use href="#dR" x="84"/></g><g id="k41_2"><use href="#dR" x="136"/></g><g id="k41_3"><use href="#dR" x="188"/></g><g id="k41_4"><use href="#oR" x="240"/></g><g id="k41_5"><use href="#oR" x="292"/></g><g id="k41_6"><use href="#oR" x="344"/></g><g id="k41_7"><use href="#dR" x="396"/></g><g id="k41_8"><use href="#dR" x="448"/></g><g id="k41_9"><use href="#dR" x="500"/></g></g>
<g transform="translate(0,2194)"><g id="k42_1"><use href="#dL" x="84"/></g><g id="k42_2"><use href="#oL" x="136"/></g><g id="k42_3"><use href="#dL" x="188"/></g><g id="k42_4"><use href="#oL" x="240"/></g><g id="k42_5"><use href="#oL" x="292"/></g><g id="k42_6"><use href="#oL" x="344"/></g><g id="k42_7"><use href="#dL" x="396"/></g><g id="k42_8"><use href="#dL" x="448"/></g><g id="k42_9"><use href="#dL" x="500"/></g></g>
<g transform="translate(0,2246)"><g id="k43_1"><use href="#oR" x="84"/></g><g id="k43_2"><use href="#oR" x="136"/></g><g id="k43_3"><use href="#oR" x="188"/></g><g id="k43_4"><use href="#dR" x="240"/></g><g id="k43_5"><use href="#dR" x="292"/></g><g id="k43_6"><use href="#dR" x="344"/></g><g id="k43_7"><use href="#oR" x="396"/></g><g id="k43_8"><use href="#oR" x="448"/></g><g id="k43_9"><use href="#oR" x="500"/></g></g>
<g transform="translate(0,2298)"><g id="k44_1"><use href="#oL" x="84"/></g><g id="k44_2"><use href="#oL" x="136"/></g><g id="k44_3"><use href="#oL" x="188"/></g><g id="k44_4"><use href="#dL" x="240"/></g><g id="k44_5"><use href="#dL" x="292"/></g><g id="k44_6"><use href="#dL" x="344"/></g><g id="k44_7"><use href="#oL" x="396"/></g><g id="k44_8"><use href="#oL" x="448"/></g><g id="k44_9"><use href="#oL" x="500"/></g></g>
<g transform="translate(0,2350)"><g id="k45_1"><use href="#oR" x="84"/></g><g id="k45_2"><use href="#dR" x="136"/></g><g id="k45_3"><use href="#oR" x="188"/></g><g id="k45_4"><use href="#dR" x="240"/></g><g id="k45_5"><use href="#dR" x="292"/></g><g id="k45_6"><use href="#dR" x="344"/></g><g id="k45_7"><use href="#oR" x="396"/></g><g id="k45_8"><use href="#oR" x="448"/></g><g id="k45_9"><use href="#oR" x="500"/></g></g>
<g transform="translate(0,2402)"><g id="k46_1"><use href="#dL" x="84"/></g><g id="k46_2"><use href="#dL" x="136"/></g><g id="k46_3"><use href="#dL" x="188"/></g><g id="k46_4"><use href="#oL" x="240"/></g><g id="k46_5"><use href="#oL" x="292"/></g><g id="k46_6"><use href="#oL" x="344"/></g><g id="k46_7"><use href="#dL" x="396"/></g><g id="k46_8"><use href="#dL" x="448"/></g><g id="k46_9"><use href="#dL" x="500"/></g></g>
<g transform="translate(0,2454)"><g id="k47_1"><use href="#dR" x="84"/></g><g id="k47_2"><use href="#dR" x="136"/></g><g id="k47_3"><use href="#dR" x="188"/></g><g id="k47_4"><use href="#oR" x="240"/></g><g id="k47_5"><use href="#oR" x="292"/></g><g id="k47_6"><use href="#oR" x="344"/></g><g id="k47_7"><use href="#dR" x="396"/></g><g id="k47_8"><use href="#dR" x="448"/></g><g id="k47_9"><use href="#dR" x="500"/></g></g>
<g transform="translate(0,2506)"><g id="k48_1"><use href="#oL" x="84"/></g><g id="k48_2"><use href="#oL" x="136"/></g><g id="k48_3"><use href="#dL" x="188"/></g><g id="k48_4"><use href="#oL" x="240"/></g><g id="k48_5"><use href="#oL" x="292"/></g><g id="k48_6"><use href="#dL" x="344"/></g><g id="k48_7"><use href="#oL" x="396"/></g><g id="k48_8"><use href="#oL" x="448"/></g><g id="k48_9"><use href="#oL" x="500"/></g></g>
<g transform="translate(0,2558)"><g id="k49_1"><use href="#oR" x="84"/></g><g id="k49_2"><use href="#oR" x="136"/></g><g id="k49_3"><use href="#oR" x="188"/></g><g id="k49_4"><use href="#dR" x="240"/></g><g id="k49_5"><use href="#dR" x="292"/></g><g id="k49_6"><use href="#dR" x="344"/></g><g id="k49_7"><use href="#oR" x="396"/></g><g id="k49_8"><use href="#oR" x="448"/></g><g id="k49_9"><use href="#oR" x="500"/></g></g>
<g transform="translate(0,2610)"><g id="k50_1"><use href="#oL" x="84"/></g><g id="k50_2"><use href="#dL" x="136"/></g><g id="k50_3"><use href="#oL" x="188"/></g><g id="k50_4"><use href="#dL" x="240"/></g><g id="k50_5"><use href="#dL" x="292"/></g><g id="k50_6"><use href="#dL" x="344"/></g><g id="k50_7"><use href="#oL" x="396"/></g><g id="k50_8"><use href="#oL" x="448"/></g><g id="k50_9"><use href="#oL" x="500"/></g></g>
<g transform="translate(0,2662)"><g id="k51_1"><use href="#dR" x="84"/></g><g id="k51_2"><use href="#dR" x="136"/></g><g id="k51_3"><use href="#dR" x="188"/></g><g id="k51_4"><use href="#oR" x="240"/></g><g id="k51_5"><use href="#oR" x="292"/></g><g id="k51_6"><use href="#oR" x="344"/></g><g id="k51_7"><use href="#dR" x="396"/></g><g id="k51_8"><use href="#dR" x="448"/></g><g id="k51_9"><use href="#dR" x="500"/></g></g>
<g transform="translate(0,2714)"><g id="k52_1"><use href="#dL" x="84"/></g><g id="k52_2"><use href="#dL" x="136"/></g><g id="k52_3"><use href="#dL" x="188"/></g><g id="k52_4"><use href="#oL" x="240"/></g><g id="k52_5"><use href="#oL" x="292"/></g><g id="k52_6"><use href="#oL" x="344"/></g><g id="k52_7"><use href="#dL" x="396"/></g><g id="k52_8"><use href="#dL" x="448"/></g><g id="k52_9"><use href="#dL" x="500"/></g></g>
<g transform="translate(0,2766)"><g id="k53_1"><use href="#oR" x="84"/></g><g id="k53_2"><use href="#dR" x="136"/></g><g id="k53_3"><use href="#oR" x="188"/></g><g id="k53_4"><use href="#dR" x="240"/></g><g id="k53_5"><use href="#oR" x="292"/></g><g id="k53_6"><use href="#oR" x="344"/></g><g id="k53_7"><use href="#dR" x="396"/></g><g id="k53_8"><use href="#dR" x="448"/></g><g id="k53_9"><use href="#dR" x="500"/></g></g>
<g transform="translate(0,2818)"><g id="k54_1"><use href="#oL" x="84"/></g><g id="k54_2"><use href="#oL" x="136"/></g><g id="k54_3"><use href="#oL" x="188"/></g><g id="k54_4"><use href="#dL" x="240"/></g><g id="k54_5"><use href="#dL" x="292"/></g><g id="k54_6"><use href="#dL" x="344"/></g><g id="k54_7"><use href="#oL" x="396"/></g><g id="k54_8"><use href="#oL" x="448"/></g><g id="k54_9"><use href="#oL" x="500"/></g></g>
<g transform="translate(0,2870)"><g id="k55_1"><use href="#oR" x="84"/></g><g id="k55_2"><use href="#oR" x="136"/></g><g id="k55_3"><use href="#oR" x="188"/></g><g id="k55_4"><use href="#dR" x="240"/></g><g id="k55_5"><use href="#dR" x="292"/></g><g id="k55_6"><use href="#dR" x="344"/></g><g id="k55_7"><use href="#oR" x="396"/></g><g id="k55_8"><use href="#oR" x="448"/></g><g id="k55_9"><use href="#oR" x="500"/></g></g>
<g transform="translate(0,2922)"><g id="k56_1"><use href="#oL" x="84"/></g><g id="k56_2"><use href="#dL" x="136"/></g><g id="k56_3"><use href="#oL" x="188"/></g><g id="k56_4"><use href="#dL" x="240"/></g><g id="k56_5"><use href="#dL" x="292"/></g><g id="k56_6"><use href="#dL" x="344"/></g><g id="k56_7"><use href="#oL" x="396"/></g><g id="k56_8"><use href="#dL" x="448"/></g><g id="k56_9"><use href="#oL" x="500"/></g></g>
<g transform="translate(0,2974)"><g id="k57_1"><use href="#dR" x="84"/></g><g id="k57_2"><use href="#dR" x="136"/></g><g id="k57_3"><use href="#dR" x="188"/></g><g id="k57_4"><use href="#oR" x="240"/></g><g id="k57_5"><use href="#oR" x="292"/></g><g id="k57_6"><use href="#oR" x="344"/></g><g id="k57_7"><use href="#dR" x="396"/></g><g id="k57_8"><use href="#dR" x="448"/></g><g id="k57_9"><use href="#dR" x="500"/></g></g>
<g transform="translate(0,3026)"><g id="k58_1"><use href="#oL" x="84"/></g><g id="k58_2"><use href="#dL" x="136"/></g><g id="k58_3"><use href="#dL" x="188"/></g><g id="k58_4"><use href="#oL" x="240"/></g><g id="k58_5"><use href="#oL" x="292"/></g><g id="k58_6"><use href="#oL" x="344"/></g><g id="k58_7"><use href="#dL" x="396"/></g><g id="k58_8"><use href="#dL" x="448"/></g><g id="k58_9"><use href="#dL" x="500"/></g></g>
<g transform="translate(0,3078)"><g id="k59_1"><use href="#oR" x="84"/></g><g id="k59_2"><use href="#oR" x="136"/></g><g id="k59_3"><use href="#oR" x="188"/></g><g id="k59_4"><use href="#dR" x="240"/></g><g id="k59_5"><use href="#oR" x="292"/></g><g id="k59_6"><use href="#oR" x="344"/></g><g id="k59_7"><use href="#dR" x="396"/></g><g id="k59_8"><use href="#oR" x="448"/></g><g id="k59_9"><use href="#oR" x="500"/></g></g>
<g transform="translate(0,3130)"><g id="k60_1"><use href="#oL" x="84"/></g><g id="k60_2"><use href="#oL" x="136"/></g><g id="k60_3"><use href="#oL" x="188"/></g><g id="k60_4"><use href="#dL" x="240"/></g><g id="k60_5"><use href="#dL" x="292"/></g><g id="k60_6"><use href="#dL" x="344"/></g><g id="k60_7"><use href="#oL" x="396"/></g><g id="k60_8"><use href="#oL" x="448"/></g><g id="k60_9"><use href="#oL" x="500"/></g></g>
<g transform="translate(0,3182)"><g id="k61_1"><use href="#dR" x="84"/></g><g id="k61_2"><use href="#oR" x="136"/></g><g id="k61_3"><use href="#oR" x="188"/></g><g id="k61_4"><use href="#dR" x="240"/></g><g id="k61_5"><use href="#dR" x="292"/></g><g id="k61_6"><use href="#dR" x="344"/></g><g id="k61_7"><use href="#oR" x="396"/></g><g id="k61_8"><use href="#oR" x="448"/></g><g id="k61_9"><use href="#oR" x="500"/></g></g>
<g transform="translate(0,3234)"><g id="k62_1"><use href="#dL" x="84"/></g><g id="k62_2"><use href="#dL" x="136"/></g><g id="k62_3"><use href="#dL" x="188"/></g><g id="k62_4"><use href="#oL" x="240"/></g><g id="k62_5"><use href="#dL" x="292"/></g><g id="k62_6"><use href="#dL" x="344"/></g><g id="k62_7"><use href="#oL" x="396"/></g><g id="k62_8"><use href="#dL" x="448"/></g><g id="k62_9"><use href="#dL" x="500"/></g></g>
<g transform="translate(0,3286)"><g id="k63_1"><use href="#dR" x="84"/></g><g id="k63_2"><use href="#dR" x="136"/></g><g id="k63_3"><use href="#dR" x="188"/></g><g id="k63_4"><use href="#oR" x="240"/></g><g id="k63_5"><use href="#oR" x="292"/></g><g id="k63_6"><use href="#oR" x="344"/></g><g id="k63_7"><use href="#dR" x="396"/></g><g id="k63_8"><use href="#dR" x="448"/></g><g id="k63_9"><use href="#dR" x="500"/></g></g>
<g transform="translate(0,3338)"><g id="k64_1"><use href="#oL" x="84"/></g><g id="k64_2"><use href="#dL" x="136"/></g><g id="k64_3"><use href="#dL" x="188"/></g><g id="k64_4"><use href="#oL" x="240"/></g><g id="k64_5"><use href="#oL" x="292"/></g><g id="k64_6"><use href="#oL" x="344"/></g><g id="k64_7"><use href="#dL" x="396"/></g><g id="k64_8"><use href="#dL" x="448"/></g><g id="k64_9"><use href="#dL" x="500"/></g></g>
<g transform="translate(0,3390)"><g id="k65_1"><use href="#oR" x="84"/></g><g id="k65_2"><use href="#oR" x="136"/></g><g id="k65_3"><use href="#oR" x="188"/></g><g id="k65_4"><use href="#dR" x="240"/></g><g id="k65_5"><use href="#oR" x="292"/></g><g id="k65_6"><use href="#oR" x="344"/></g><g id="k65_7"><use href="#dR" x="396"/></g><g id="k65_8"><use href="#dR" x="448"/></g><g id="k65_9"><use href="#dR" x="500"/></g></g>
<g transform="translate(0,3442)"><g id="k66_1"><use href="#oL" x="84"/></g><g id="k66_2"><use href="#oL" x="136"/></g><g id="k66_3"><use href="#oL" x="188"/></g><g id="k66_4"><use href="#dL" x="240"/></g><g id="k66_5"><use href="#dL" x="292"/></g><g id="k66_6"><use href="#dL" x="344"/></g><g id="k66_7"><use href="#oL" x="396"/></g><g id="k66_8"><use href="#oL" x="448"/></g><g id="k66_9"><use href="#oL" x="500"/></g></g>
</g>
<g id="start-labels"><text class="A" x="30" y="66">A</text><text class="A" x="30" y="3446">A</text></g>
<text class="w" x="291" y="1756">BRACELETBOOK.COM</text>
</svg>
